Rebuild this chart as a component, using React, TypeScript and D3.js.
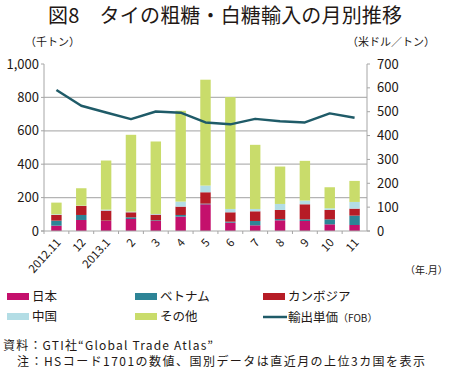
import React from 'react';
import * as d3 from 'd3';

const months = ['2012.11', '12', '2013.1', '2', '3', '4', '5', '6', '7', '8', '9', '10', '11'];
const japan = [32, 66, 60, 72, 60, 86, 160, 50, 34, 64, 60, 40, 36];
const vietnam = [30, 30, 2, 10, 4, 10, 4, 6, 26, 8, 10, 30, 56];
const cambodia = [34, 54, 60, 30, 34, 50, 68, 56, 58, 54, 90, 56, 42];
const china = [4, 2, 6, 4, 4, 30, 40, 20, 14, 36, 22, 10, 40];
const other = [70, 104, 294, 460, 434, 544, 634, 670, 384, 224, 238, 126, 126];
const unitPrice = [591, 525, 497, 469, 501, 496, 455, 447, 470, 460, 455, 493, 475];
const leftTicks = [0, 200, 400, 600, 800, 1000];
const rightTicks = [0, 100, 200, 300, 400, 500, 600, 700];

const keys = ['japan', 'vietnam', 'cambodia', 'china', 'other'];
const names = ['日本', 'ベトナム', 'カンボジア', '中国', 'その他'];
const colors = ['#c4106c', '#2d8496', '#b61c26', '#b3dde5', '#c9dc6b'];
const lineColor = '#1f5b68';
const font = '"Noto Sans CJK JP", "Noto Sans", sans-serif';

const W = 450;
const H = 370;
const left = 44;
const right = 367;
const bottom = 231;
const top = 64;

function translate(x: number, y: number) {
  return `translate(${x}, ${y})`;
}

export default function App() {
  const rows = months.map((m, i) => ({
    month: m,
    japan: japan[i],
    vietnam: vietnam[i],
    cambodia: cambodia[i],
    china: china[i],
    other: other[i],
  }));
  const series = d3.stack<any>().keys(keys)(rows);

  const x = d3.scaleBand().domain(months).range([left, right]);
  const step = x.bandwidth();
  const barW = step * 0.42;
  const cx = (m: string) => (x(m) as number) + step / 2;
  const y = d3.scaleLinear().domain([0, 1000]).range([bottom, top]);
  const yR = d3.scaleLinear().domain([0, 700]).range([bottom, top]);

  const line = d3
    .line<number>()
    .x((d, i) => cx(months[i]))
    .y((d) => yR(d));

  const axisColor = '#a6a6a6';

  return (
    <svg
      width={W}
      height={H}
      style={{ position: 'absolute', left: 0, top: 0, background: '#fff' }}
      fontFamily={font}
    >
      <text x={225} y={23} textAnchor="middle" fontSize={20} fill="#231815" textLength={354}>
        図8　タイの粗糖・白糖輸入の月別推移
      </text>
      <text x={25} y={46} fontSize={11} fill="#231815">（千トン）</text>
      <text x={347} y={46} fontSize={11} fill="#231815">（米ドル／トン）</text>

      {/* grid */}
      {leftTicks.filter((t) => t > 0 && t < 1000).map((t) => (
        <line key={t} x1={left} x2={right} y1={y(t)} y2={y(t)} stroke="#b4b4b4" strokeWidth={1.3} />
      ))}

      {/* bars */}
      {series.map((s, si) => (
        <g key={s.key} fill={colors[si]}>
          {s.map((d: any, i: number) => (
            <rect
              key={i}
              x={cx(months[i]) - barW / 2}
              y={y(d[1])}
              width={barW}
              height={Math.max(0, y(d[0]) - y(d[1]))}
            />
          ))}
        </g>
      ))}

      {/* axes */}
      <line x1={left} x2={left} y1={top} y2={bottom} stroke={axisColor} />
      <line x1={right} x2={right} y1={top} y2={bottom} stroke={axisColor} />
      <line x1={left - 3} x2={right + 3} y1={bottom} y2={bottom} stroke={axisColor} />
      {leftTicks.map((t) => (
        <g key={t} transform={translate(left, y(t))}>
          <line x1={-3} x2={0} stroke={axisColor} />
          <text x={-5} dy="0.35em" textAnchor="end" fontSize={13} fill="#231815">
            {d3.format(',')(t)}
          </text>
        </g>
      ))}
      {rightTicks.map((t) => (
        <g key={t} transform={translate(right, yR(t))}>
          <line x1={0} x2={3} stroke={axisColor} />
          <text x={10} dy="0.35em" fontSize={13} fill="#231815">
            {t}
          </text>
        </g>
      ))}
      {months.map((m) => (
        <line key={m} x1={x(m) as number} x2={x(m) as number} y1={bottom} y2={bottom + 3} stroke={axisColor} />
      ))}
      {months.map((m) => (
        <text
          key={m}
          transform={`${translate(cx(m) + 5, 243)} rotate(-48)`}
          textAnchor="end"
          fontSize={11.5}
          fill="#231815"
        >
          {m}
        </text>
      ))}
      <text x={405} y={274} fontSize={10} fill="#231815">（年.月）</text>

      <path d={line(unitPrice) || ''} fill="none" stroke={lineColor} strokeWidth={2.5} strokeLinejoin="round" />

      {/* legend */}
      {names.map((n, i) => {
        const lx = 7 + (i % 3) * 128;
        const ly = 293 + Math.floor(i / 3) * 20;
        return (
          <g key={n} transform={translate(lx, ly)}>
            <rect width={22} height={7} fill={colors[i]} />
            <text x={25} y={7.5} fontSize={12.5} fill="#231815">{n}</text>
          </g>
        );
      })}
      <g transform={translate(263, 313)}>
        <line x1={0} x2={24} y1={4} y2={4} stroke={lineColor} strokeWidth={2.5} />
        <text x={25} y={8.5} fontSize={12.5} fill="#231815">
          輸出単価<tspan fontSize={10}>（FOB）</tspan>
        </text>
      </g>

      <text x={3} y={350} fontSize={12} fill="#231815" textLength={210}>資料：GTI社“Global Trade Atlas”</text>
      <text x={17} y={366} fontSize={12} fill="#231815" textLength={408}>注：HSコード1701の数値、国別データは直近月の上位3カ国を表示</text>
    </svg>
  );
}
